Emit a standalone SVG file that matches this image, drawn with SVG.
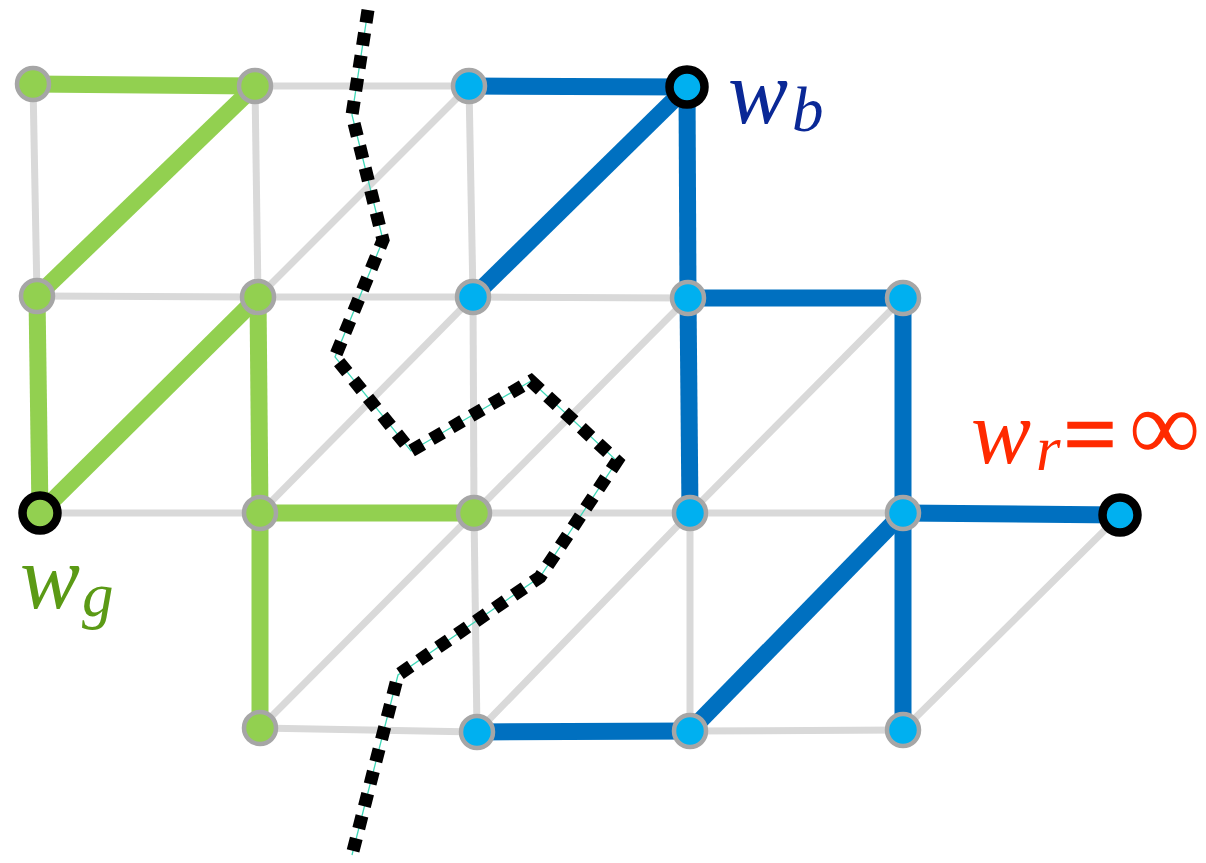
<svg xmlns="http://www.w3.org/2000/svg" width="1206" height="863" viewBox="0 0 1206 863">
<style>
.g{stroke:#d9d9d9;stroke-width:7;fill:none}
.eg{stroke:#92d050;stroke-width:17;fill:none}
.eb{stroke:#0070c0;stroke-width:17;fill:none}
.n{stroke:#a6a6a6;stroke-width:4.5}
.k{stroke:#000;stroke-width:8.5}
.gr{fill:#92d050}
.bl{fill:#00b0f0}
.lbl{font-family:"Liberation Serif","Times New Roman",serif;font-style:italic}
</style>
<rect width="1206" height="863" fill="#fff"/>
<g id="connectors">
<line class="g" x1="255" y1="86" x2="469" y2="86"/>
<line class="g" x1="37" y1="296" x2="258" y2="297"/>
<line class="g" x1="258" y1="297" x2="473" y2="297"/>
<line class="g" x1="473" y1="297" x2="688" y2="298"/>
<line class="g" x1="40" y1="513" x2="260" y2="513"/>
<line class="g" x1="474" y1="513" x2="690" y2="513"/>
<line class="g" x1="690" y1="513" x2="903" y2="513"/>
<line class="g" x1="260" y1="728" x2="477" y2="732"/>
<line class="g" x1="690" y1="731" x2="903" y2="730"/>
<line class="g" x1="33" y1="84" x2="37" y2="296"/>
<line class="g" x1="255" y1="86" x2="258" y2="297"/>
<line class="g" x1="469" y1="86" x2="473" y2="297"/>
<line class="g" x1="473" y1="297" x2="474" y2="513"/>
<line class="g" x1="474" y1="513" x2="477" y2="732"/>
<line class="g" x1="690" y1="513" x2="690" y2="731"/>
<line class="g" x1="258" y1="297" x2="469" y2="86"/>
<line class="g" x1="260" y1="513" x2="473" y2="297"/>
<line class="g" x1="474" y1="513" x2="688" y2="298"/>
<line class="g" x1="690" y1="513" x2="903" y2="298"/>
<line class="g" x1="260" y1="728" x2="474" y2="513"/>
<line class="g" x1="477" y1="732" x2="690" y2="513"/>
<line class="g" x1="903" y1="730" x2="1120" y2="515"/>
<line class="eg" x1="33" y1="84" x2="255" y2="86"/>
<line class="eg" x1="37" y1="296" x2="255" y2="86"/>
<line class="eg" x1="37" y1="296" x2="40" y2="513"/>
<line class="eg" x1="40" y1="513" x2="258" y2="297"/>
<line class="eg" x1="258" y1="297" x2="260" y2="513"/>
<line class="eg" x1="260" y1="513" x2="474" y2="513"/>
<line class="eg" x1="260" y1="513" x2="260" y2="728"/>
<line class="eb" x1="469" y1="86" x2="687" y2="87"/>
<line class="eb" x1="473" y1="297" x2="687" y2="87"/>
<line class="eb" x1="687" y1="87" x2="688" y2="298"/>
<line class="eb" x1="688" y1="298" x2="903" y2="298"/>
<line class="eb" x1="688" y1="298" x2="690" y2="513"/>
<line class="eb" x1="903" y1="298" x2="903" y2="513"/>
<line class="eb" x1="903" y1="513" x2="1120" y2="515"/>
<line class="eb" x1="903" y1="513" x2="903" y2="730"/>
<line class="eb" x1="690" y1="731" x2="903" y2="513"/>
<line class="eb" x1="477" y1="732" x2="690" y2="731"/>
</g>
<g id="cut">
<polyline points="368,10 352,115 383,240 335,357 411,451 531,381 617,461 540,577 398,675 352,855" fill="none" stroke="#40d8b8" stroke-width="1.3"/>
<polyline points="368,10 352,115 383,240 335,357 411,451 531,381 617,461 540,577 398,675 352,855" fill="none" stroke="#000" stroke-width="13" stroke-dasharray="13 10"/>
</g>
<g id="n11"><circle class="n gr" cx="33" cy="84" r="16"/></g>
<g id="n12"><circle class="n gr" cx="255" cy="86" r="16"/></g>
<g id="n13"><circle class="n bl" cx="469" cy="86" r="16"/></g>
<g id="n14"><circle class="k bl" cx="687" cy="87" r="17.5"/></g>
<g id="n21"><circle class="n gr" cx="37" cy="296" r="16"/></g>
<g id="n22"><circle class="n gr" cx="258" cy="297" r="16"/></g>
<g id="n23"><circle class="n bl" cx="473" cy="297" r="16"/></g>
<g id="n24"><circle class="n bl" cx="688" cy="298" r="16"/></g>
<g id="n25"><circle class="n bl" cx="903" cy="298" r="16"/></g>
<g id="n31"><circle class="k gr" cx="40" cy="513" r="17.5"/></g>
<g id="n32"><circle class="n gr" cx="260" cy="513" r="16"/></g>
<g id="n33"><circle class="n gr" cx="474" cy="513" r="16"/></g>
<g id="n34"><circle class="n bl" cx="690" cy="513" r="16"/></g>
<g id="n35"><circle class="n bl" cx="903" cy="513" r="16"/></g>
<g id="n36"><circle class="k bl" cx="1120" cy="515" r="17.5"/></g>
<g id="n42"><circle class="n gr" cx="260" cy="728" r="16"/></g>
<g id="n43"><circle class="n bl" cx="477" cy="732" r="16"/></g>
<g id="n44"><circle class="n bl" cx="690" cy="731" r="16"/></g>
<g id="n45"><circle class="n bl" cx="903" cy="730" r="16"/></g>
<g id="label-wb" class="lbl" fill="#0a2896">
<text x="728" y="123" font-size="90">w</text>
<text x="792" y="131" font-size="63">b</text>
</g>
<g id="label-wg" class="lbl" fill="#5b9a15">
<text x="20" y="608" font-size="90">w</text>
<text x="82" y="616" font-size="63">g</text>
</g>
<g id="label-wr" class="lbl" fill="#ff2a00">
<text x="971" y="463" font-size="90">w</text>
<text x="1036" y="470" font-size="63">r</text>
<text x="1064" y="465" font-size="92" font-style="normal" stroke="#ff2a00" stroke-width="2.5">=</text>
<text x="1129" y="460" font-size="100" font-style="normal">∞</text>
</g>
</svg>
